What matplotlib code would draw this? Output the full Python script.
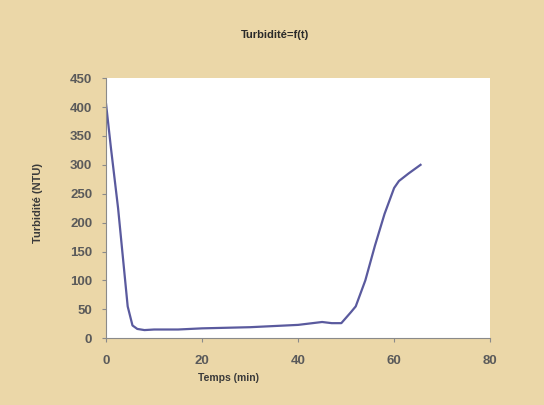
import numpy as np
import matplotlib.pyplot as plt

plt.rcParams['font.family'] = ['Liberation Sans', 'DejaVu Sans']

# temps (min) et turbidite (NTU)
temps = [0, 1, 2.5, 4.5, 5.5, 6.5, 8, 10, 15, 20, 30, 40, 45, 47, 49, 51, 52, 54, 56, 58, 60, 61, 63, 65.5]
turb = [405, 330, 225, 55, 22, 16, 14, 15, 15, 17, 19, 23, 28, 26, 26, 45, 55, 100, 160, 215, 260, 272, 285, 300]

bg = '#ebd7a8'

fig = plt.figure(figsize=(5.44, 4.05), dpi=100)
fig.patch.set_facecolor(bg)
ax = fig.add_axes([0.195, 0.165, 0.706, 0.642])
ax.set_facecolor('white')

ax.plot(temps, turb, '-', color='#5a5a9e', lw=1.6)

ax.set_xlim(0, 80)
ax.set_ylim(0, 450)
ax.set_xticks(np.arange(0, 81, 20))
ax.set_yticks(np.arange(0, 451, 50))

for s in ['top', 'right']:
    ax.spines[s].set_visible(False)
for s in ['left', 'bottom']:
    ax.spines[s].set_color('#8a8a8a')
    ax.spines[s].set_linewidth(0.8)

ax.tick_params(direction='out', length=3, color='#8a8a8a', labelcolor='#5a5a5a',
               labelsize=9.5)
ax.tick_params(axis='x', pad=9)
ax.tick_params(axis='y', pad=7)
for lab in ax.get_xticklabels() + ax.get_yticklabels():
    lab.set_fontweight('bold')

ax.set_xlabel('Temps (min)', fontsize=7.5, fontweight='bold', color='#3a3a3a', labelpad=2)
ax.xaxis.set_label_coords(0.318, -0.135)
ax.set_ylabel('Turbidité (NTU)', fontsize=8, fontweight='bold', color='#3a3a3a')
ax.yaxis.set_label_coords(-0.165, 0.52)
fig.text(0.505, 0.905, 'Turbidité=f(t)', ha='center', fontsize=8, fontweight='bold', color='#2a2a2a')

fig.savefig('out.png', dpi=100, facecolor=bg)
